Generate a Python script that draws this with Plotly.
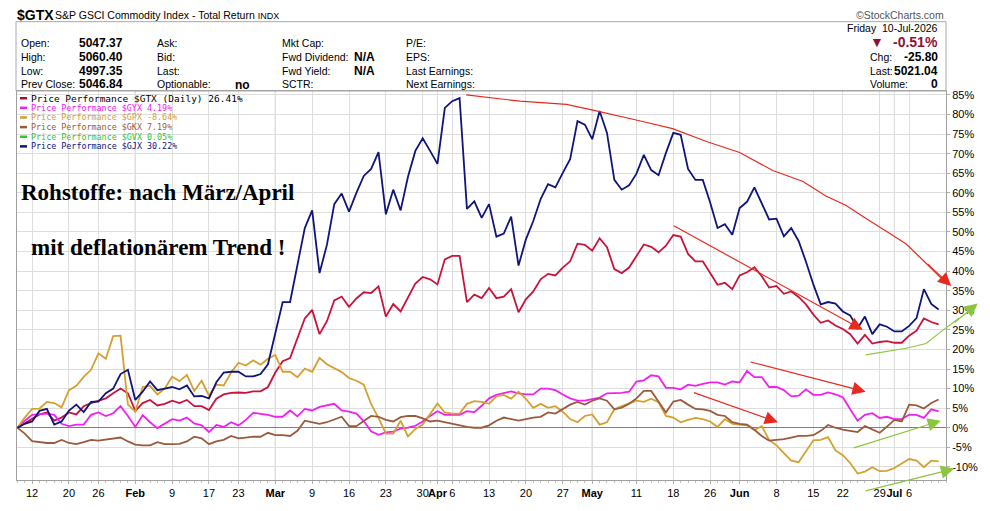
import pandas as pd
import plotly.graph_objects as go

# trading days on the chart (weekends and exchange holidays are skipped)
HOLIDAYS = ["2026-01-19", "2026-02-16", "2026-04-03", "2026-05-25", "2026-06-19", "2026-07-03"]
dates = [d.strftime("%Y-%m-%d") for d in pd.bdate_range("2026-01-08", "2026-07-10")]
dates = [d for d in dates if d not in HOLIDAYS]

TICK_DATES = ["2026-01-12", "2026-01-20", "2026-01-26", "2026-02-02", "2026-02-09", "2026-02-17",
              "2026-02-23", "2026-03-02", "2026-03-09", "2026-03-16", "2026-03-23", "2026-03-30",
              "2026-04-01", "2026-04-06", "2026-04-13", "2026-04-20", "2026-04-27", "2026-05-01",
              "2026-05-11", "2026-05-18", "2026-05-26", "2026-06-01", "2026-06-08", "2026-06-15",
              "2026-06-22", "2026-06-29", "2026-07-01", "2026-07-06"]
TICK_TEXT = ["12", "20", "26", "Feb", "9", "17", "23", "Mar", "9", "16", "23", "30", "Apr", "6",
             "13", "20", "27", "May", "11", "18", "26", "Jun", "8", "15", "22", "29", "Jul", "6"]
MONTHS = ["Feb", "Mar", "Apr", "May", "Jun", "Jul"]

# price performance in % since 8-Jan
GTX = [0, 1.1, 2.2, 3.4, 3.9, 1.8, 2.6, 3.9, 3.4, 5.5, 6.3, 6.9, 7.5, 8.8, 10.0, 8.8, 4.3, 6.3, 7.1, 5.7,
       6.1, 6.9, 6.3, 7.1, 5.5, 5.5, 4.5, 7.4, 8.5, 8.9, 9.0, 8.9, 9.3, 9.3, 10.4, 14.1, 17.0, 17.8, 22.7, 27.9,
       30.1, 23.9, 27.2, 32.5, 33.5, 30.9, 33.0, 34.6, 34.4, 36.1, 28.4, 31.6, 29.7, 33.4, 36.8, 38.5, 37.9, 36.6, 43.0, 43.9,
       43.9, 32.1, 34.0, 33.1, 35.7, 33.1, 33.5, 35.4, 29.5, 32.8, 34.8, 37.9, 39.3, 38.9, 40.9, 42.5, 47.0, 46.7, 45.2, 48.4,
       46.1, 40.5, 39.5, 40.9, 43.8, 46.8, 46.2, 44.8, 46.5, 49.2, 48.8, 44.4, 42.5, 42.5, 39.5, 36.5, 37.0, 35.4, 38.9, 39.7,
       41.0, 38.7, 35.8, 36.2, 34.2, 34.8, 33.4, 31.5, 28.9, 26.8, 27.4, 26.1, 25.2, 23.9, 21.5, 23.7, 21.5, 21.9, 22.1, 21.7,
       21.7, 23.5, 24.8, 27.9, 27.0, 26.4]
GYX = [0, 1.8, 3.3, 3.4, 3.6, 3.3, 1.0, 0.4, 0.8, 0.8, 3.3, 3.9, 3.0, 3.7, 5.5, 3.0, 0.2, 3.2, 1.4, -0.1,
       1.1, 2.2, 1.8, 2.6, 1.1, 0.6, -1.1, 0.7, 0.2, 1.4, 0.6, 2.0, 3.8, 3.6, 3.3, 2.8, 2.8, 4.4, 2.9, 4.8,
       4.4, 5.3, 5.7, 6.1, 4.4, 4.1, 3.6, 1.7, -0.9, -1.8, -1.2, -1.0, -0.2, 0.0, 0.5, 1.6, 3.0, 4.2, 3.3, 3.3,
       3.3, 4.2, 4.0, 5.6, 7.5, 8.4, 8.9, 9.3, 8.8, 8.5, 8.5, 10.0, 10.0, 9.6, 8.5, 7.5, 6.9, 6.9, 7.3, 7.7,
       8.8, 8.9, 8.9, 9.2, 11.8, 12.1, 13.4, 13.1, 10.2, 10.2, 9.8, 11.0, 10.7, 11.2, 11.6, 11.6, 11.0, 11.8, 11.6, 14.5,
       12.9, 12.9, 10.4, 10.4, 9.6, 8.0, 8.2, 9.8, 8.4, 8.4, 9.0, 8.5, 7.8, 4.7, 1.8, 3.3, 3.7, 2.5, 2.8, 2.2,
       2.2, 3.3, 3.3, 2.5, 4.7, 4.2]
GPX = [0, 2.6, 4.8, 4.9, 6.6, 6.3, 5.2, 9.6, 10.7, 13.0, 14.8, 19.0, 17.6, 23.4, 23.5, 5.9, 4.1, 10.4, 10.7, 8.5,
       10.0, 13.0, 11.9, 13.5, 9.4, 12.0, 8.2, 11.0, 10.8, 14.1, 16.6, 15.9, 17.2, 16.1, 17.6, 18.6, 14.3, 14.3, 12.9, 15.1,
       14.3, 17.8, 16.2, 15.2, 14.2, 12.7, 12.0, 11.0, 6.0, 2.5, -1.5, -1.5, 1.8, -2.2, -0.3, 0.8, 3.5, 6.2, 3.9, 3.6,
       3.6, 6.1, 6.8, 6.6, 6.1, 8.0, 8.4, 7.4, 9.2, 7.4, 5.1, 6.1, 5.1, 5.5, 4.1, 2.2, 1.4, 3.0, 3.4, 0.8,
       1.4, 4.7, 5.5, 6.1, 6.9, 6.6, 7.4, 6.5, 3.0, 2.6, 1.4, 2.0, 2.5, 2.2, 1.6, 0.2, 2.2, 1.0, 0.8, 0.6,
       -0.6, 0.4, -3.1, -4.5, -6.5, -8.4, -8.8, -6.0, -3.2, -3.1, -2.4, -5.8, -7.0, -9.0, -11.7, -11.2, -10.1, -11.1, -11.0, -10.3,
       -9.2, -8.0, -8.4, -10.1, -8.4, -8.6]
GKX = [0, -1.5, -3.4, -3.7, -3.9, -3.9, -3.1, -3.9, -4.2, -3.7, -3.1, -3.3, -3.0, -2.7, -2.5, -3.5, -4.3, -4.5, -4.5, -3.7,
       -4.2, -4.2, -4.1, -3.5, -2.3, -2.7, -4.2, -3.5, -3.1, -2.1, -2.7, -2.5, -2.3, -2.3, -1.3, -1.9, -1.9, -2.1, -0.8, 1.8,
       1.4, 1.0, 1.4, 2.1, 2.8, 0.4, 0.4, 1.7, 3.0, 2.8, 2.0, 1.6, 2.7, 3.0, 3.0, 2.4, 1.6, 1.8, 1.4, 1.0,
       0.6, 0.2, 0.0, 0.0, 0.6, 1.8, 2.6, 2.2, 1.8, 2.2, 2.6, 2.8, 3.9, 3.6, 4.7, 5.9, 6.6, 5.9, 6.9, 7.5,
       6.9, 4.7, 5.1, 6.1, 7.5, 9.4, 9.4, 6.7, 3.9, 6.7, 7.1, 5.9, 4.8, 4.7, 4.3, 3.3, 3.0, 1.4, 1.0, 0.8,
       -0.5, -2.1, -3.3, -3.1, -2.9, -2.5, -2.1, -2.1, -1.9, -0.8, 0.7, 0.0, -0.5, -0.8, -1.1, 0.4, -0.4, -1.3, 0.3, 2.0,
       1.6, 5.9, 5.7, 4.9, 6.3, 7.2]
GJX = [0, 1.0, 1.6, 4.3, 4.8, 0.8, 1.6, 4.4, 5.9, 4.0, 6.6, 6.7, 8.8, 10.0, 13.7, 14.8, 7.1, 9.2, 11.8, 9.6,
       10.0, 10.4, 9.8, 10.8, 8.0, 8.1, 7.5, 11.6, 14.1, 14.3, 14.3, 13.1, 13.1, 13.7, 16.2, 23.9, 32.1, 32.1, 41.1, 51.0,
       55.5, 39.5, 46.7, 57.1, 59.8, 55.2, 60.0, 64.3, 66.1, 70.4, 54.5, 60.8, 55.5, 64.1, 70.7, 73.9, 70.7, 67.4, 81.7, 83.4,
       84.2, 55.9, 57.8, 53.6, 57.1, 48.8, 49.6, 53.9, 41.4, 48.1, 52.8, 58.4, 62.2, 61.4, 65.1, 68.6, 78.3, 77.4, 73.7, 80.9,
       75.3, 63.3, 60.8, 61.9, 64.9, 69.7, 65.8, 64.5, 70.2, 75.3, 74.8, 66.1, 63.3, 63.3, 57.5, 51.0, 52.0, 49.3, 56.1, 57.7,
       61.4, 57.4, 53.2, 53.4, 48.9, 51.0, 47.7, 42.4, 36.6, 31.5, 32.1, 31.7, 29.7, 28.7, 25.4, 28.4, 23.9, 26.4, 25.8, 24.6,
       24.6, 26.0, 28.0, 35.4, 31.6, 30.2]

LEGEND = ["Price Performance $GTX (Daily) 26.41%", "Price Performance $GYX 4.19%",
          "Price Performance $GPX -8.64%", "Price Performance $GKX 7.19%",
          "Price Performance $GVX 0.05%", "Price Performance $GJX 30.22%"]

# hand drawn arrows, in (trading day, %) units
RED_CURVE = [(60.9, 85.0), (68.2, 83.4), (74.5, 82.6), (78.1, 81.1), (84.4, 78.4), (88.9, 76.4), (93.5, 73.1),
             (98.0, 70.3), (102.5, 65.7), (106.6, 62.9), (109.7, 59.2), (112.4, 56.8), (115.1, 53.5),
             (117.9, 50.2), (120.6, 46.9), (123.3, 42.0), (125.5, 37.9)]
RED_CURVE_HEAD = ((123.3, 42.0), (126.7, 36.2))
GREEN_CURVE = [(115.1, 18.6), (120.6, 20.3), (123.3, 21.5), (125.5, 24.8), (127.8, 28.0)]
GREEN_CURVE_HEAD = ((127.0, 26.8), (130.3, 31.7))
RED_ARROWS = [((88.9, 50.8), (114.7, 25.0)), ((99.3, 16.6), (115.1, 9.2)), ((91.6, 8.8), (103.2, 1.4))]
GREEN_ARROWS = [((113.3, -5.0), (125.3, 1.8)), ((114.9, -16.0), (127.1, -10.5))]

FONT = "Liberation Sans, Arial, sans-serif"
MONO = "DejaVu Sans Mono, monospace"
COLORS = {"GTX": "#c8143c", "GYX": "#f020f0", "GPX": "#d4a030", "GKX": "#9a5b3c", "GVX": "#30c830", "GJX": "#10157a"}
LEGEND_COLORS = ["#9a1030", COLORS["GYX"], COLORS["GPX"], COLORS["GKX"], COLORS["GVX"], COLORS["GJX"]]
RED = "#e82a1e"
GREEN = "#8cc63f"

W, H = 990, 511
L, R, T, B = 17, 947, 91, 495
X0, X1 = -0.05, 126.0
Y0, Y1 = -13.35, 86.0


def pxx(x):
    return (x - L) / (R - L)


def pxy(y):
    return (B - y) / (B - T)


def data_px(i, v):
    return L + (i - X0) / (X1 - X0) * (R - L), B - (v - Y0) / (Y1 - Y0) * (B - T)


x = list(range(len(dates)))
fig = go.Figure()
for name, vals in [("GTX", GTX), ("GYX", GYX), ("GPX", GPX), ("GKX", GKX), ("GJX", GJX)]:
    fig.add_trace(go.Scatter(x=x, y=vals, mode="lines", name=name, text=dates,
                             line=dict(color=COLORS[name], width=1.8), showlegend=False))

tickvals = [dates.index(d) for d in TICK_DATES]
ticktext = ["<b>%s</b>" % t if t in MONTHS else t for t in TICK_TEXT]

shapes = []
# darker grid lines at month starts
for d, t in zip(TICK_DATES, TICK_TEXT):
    if t in MONTHS:
        shapes.append(dict(type="line", xref="x", yref="paper", x0=dates.index(d), x1=dates.index(d),
                           y0=0, y1=1, line=dict(color="#b4b4b4", width=1), layer="below"))
# info box above the plot
shapes.append(dict(type="rect", xref="paper", yref="paper", x0=pxx(16), x1=pxx(947), y0=pxy(91), y1=pxy(19),
                   line=dict(color="#a8a8a8", width=1)))
# legend dashes
for k, c in enumerate(LEGEND_COLORS):
    yy = 98.5 + 10 * k
    shapes.append(dict(type="line", xref="paper", yref="paper", x0=pxx(20), x1=pxx(27), y0=pxy(yy), y1=pxy(yy),
                       line=dict(color=c, width=2.5)))


def curve(points, color):
    pts = [data_px(*p) for p in points]
    path = "M " + " L ".join("%.5f,%.5f" % (pxx(a), pxy(b)) for a, b in pts)
    return dict(type="path", xref="paper", yref="paper", path=path, line=dict(color=color, width=1.2))


shapes.append(curve(RED_CURVE, RED))
shapes.append(curve(GREEN_CURVE, GREEN))

fig.update_layout(shapes=shapes)


def arrow(tail, head, color):
    tx, ty = data_px(*tail)
    hx, hy = data_px(*head)
    fig.add_annotation(x=pxx(hx), y=pxy(hy), xref="paper", yref="paper", ax=tx - hx, ay=ty - hy,
                       axref="pixel", ayref="pixel", text="", showarrow=True, arrowhead=2,
                       arrowsize=2.2, arrowwidth=1.2, arrowcolor=color, standoff=0)


for t, h in RED_ARROWS + [RED_CURVE_HEAD]:
    arrow(t, h, RED)
for t, h in GREEN_ARROWS + [GREEN_CURVE_HEAD]:
    arrow(t, h, GREEN)


def label(xp, yp, text, size=10.5, color="black", anchor="left", family=FONT):
    fig.add_annotation(x=pxx(xp), y=pxy(yp), xref="paper", yref="paper", text=text, showarrow=False,
                       xanchor=anchor, yanchor="middle", font=dict(size=size, color=color, family=family))


# header
label(15, 12, "<b>$GTX</b>", size=14)
label(53, 12.5, "S&P GSCI Commodity Index - Total Return <span style='font-size:9px'>INDX</span>", size=10.5)
label(947, 12, "©StockCharts.com", size=10.5, color="#555555", anchor="right")

rows = [41.5, 55.5, 70, 84]
for y, a, v in zip(rows, ["Open:", "High:", "Low:", "Prev Close:"], ["5047.37", "5060.40", "4997.35", "5046.84"]):
    label(19, y, a)
    label(77, y, "<b>%s</b>" % v, size=12)
for y, a in zip(rows, ["Ask:", "Bid:", "Last:", "Optionable:"]):
    label(155, y, a)
label(233, 85, "<b>no</b>", size=12)
for y, a in zip(rows, ["Mkt Cap:", "Fwd Dividend:", "Fwd Yield:", "SCTR:"]):
    label(280, y, a)
label(352, 55.5, "<b>N/A</b>", size=12)
label(352, 70, "<b>N/A</b>", size=12)
for y, a in zip(rows, ["P/E:", "EPS:", "Last Earnings:", "Next Earnings:"]):
    label(404, y, a)

label(941, 26, "Friday  10-Jul-2026", anchor="right")
label(887, 40, "▼", size=14, color="#8c1238", anchor="right")
label(941, 40, "<b>-0.51%</b>", size=14, color="#8c1238", anchor="right")
for y, a, v in zip([56, 70, 84], ["Chg:", "Last:", "Volume:"], ["-25.80", "5021.04", "0"]):
    label(869, y, a)
    label(941, y, "<b>%s</b>" % v, size=12, anchor="right")

# legend text
for k, (txt, c) in enumerate(zip(LEGEND, LEGEND_COLORS)):
    label(29, 98.5 + 10 * k, txt, size=9.5 if k == 0 else 8.4, color="black" if k == 0 else c, family=MONO)

# headline
label(158, 196, "<b>Rohstoffe: nach März/April</b>", size=23, anchor="center",
      family="Liberation Serif, Times New Roman, serif")
label(158, 254, "<b>mit deflationärem Trend !</b>", size=23, anchor="center",
      family="Liberation Serif, Times New Roman, serif")

fig.update_xaxes(range=[X0, X1], tickmode="array", tickvals=tickvals, ticktext=ticktext, tickangle=0,
                 showgrid=True, gridcolor="#dedede", gridwidth=1, zeroline=False,
                 showline=True, linecolor="#a0a0a0", mirror=True,
                 ticks="outside", ticklen=3, tickcolor="#b0b0b0",
                 minor=dict(tickmode="linear", tick0=0, dtick=1, ticks="outside", ticklen=2, tickcolor="#c0c0c0"),
                 tickfont=dict(size=11, family=FONT, color="black"))
fig.update_yaxes(range=[Y0, Y1], side="right", tickmode="array", tickvals=list(range(-10, 90, 5)),
                 ticktext=["%d%%" % v for v in range(-10, 90, 5)],
                 showgrid=True, gridcolor="#dedede", gridwidth=1,
                 zeroline=True, zerolinecolor="#808080", zerolinewidth=1,
                 showline=True, linecolor="#a0a0a0", mirror=True,
                 ticks="outside", ticklen=3, tickcolor="#b0b0b0",
                 tickfont=dict(size=11, family=FONT, color="black"))

fig.update_layout(width=W, height=H, margin=dict(l=L, r=W - R, t=T, b=H - B),
                  paper_bgcolor="white", plot_bgcolor="white", hovermode="closest")

# page body margin would push the fixed-size figure off the window
fig.write_html("out.html", config={"displayModeBar": False},
               post_script="document.body.style.margin='0';document.body.style.overflow='hidden';")
